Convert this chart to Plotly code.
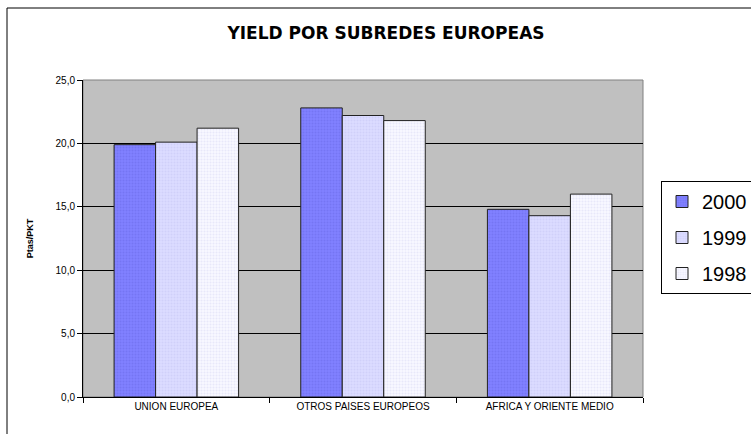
import plotly.graph_objects as go

categories = ["UNION EUROPEA", "OTROS PAISES EUROPEOS", "AFRICA Y ORIENTE MEDIO"]
years = ["2000", "1999", "1998"]
values_2000 = [19.9, 22.8, 14.8]
values_1999 = [20.1, 22.2, 14.3]
values_1998 = [21.2, 21.8, 16.0]
series = [values_2000, values_1999, values_1998]

bg_colors = ["#8080FF", "#DCDCFF", "#F8F8FF"]
fg_colors = ["#6A6AE8", "#C4C4F4", "#D8D8F4"]

W, H = 751, 434
ml, mr, mt, mb = 83, 108, 80, 37

fig = go.Figure()
for i, (name, vals) in enumerate(zip(years, series)):
    fig.add_trace(go.Bar(
        x=categories, y=vals, name=name, legendgroup=name,
        marker=dict(color=bg_colors[i],
                    pattern=dict(shape=".", fgcolor=fg_colors[i], bgcolor=bg_colors[i],
                                 size=3, solidity=0.35),
                    line=dict(color="#222222", width=1)),
    ))

pw = W - ml - mr
ph = H - mt - mb

fig.update_layout(
    width=W, height=H,
    margin=dict(l=ml, r=mr, t=mt, b=mb, pad=0, autoexpand=False),
    paper_bgcolor="white",
    plot_bgcolor="#C0C0C0",
    separators=",.",
    font=dict(family="Liberation Sans, Arial", size=10, color="black"),
    barmode="group", bargap=0.333, bargroupgap=0,
    title=dict(text="<b>YIELD POR SUBREDES EUROPEAS</b>",
               font=dict(family="DejaVu Sans", size=17, color="black"),
               x=(386) / W, xanchor="center", y=1 - 33 / H, yanchor="middle"),
    legend=dict(x=(661 - ml) / pw, xanchor="left", y=(H - mb - 181) / ph, yanchor="top",
                bordercolor="black", borderwidth=1, bgcolor="white",
                font=dict(family="Liberation Sans, Arial", size=20, color="black"),
                tracegroupgap=7, itemwidth=30, traceorder="grouped"),
    showlegend=True,
    xaxis=dict(showline=True, linecolor="black", linewidth=1,
               ticks="outside", tickson="boundaries", ticklen=5, tickcolor="black",
               showgrid=False, tickfont=dict(size=10)),
    yaxis=dict(range=[0, 25], dtick=5, tickformat=".1f",
               showline=True, linecolor="black", linewidth=1,
               ticks="outside", ticklen=5, tickcolor="black",
               showgrid=True, gridcolor="black", gridwidth=1, zeroline=False,
               tickfont=dict(size=10),
               title=dict(text="<b>Ptas/PKT</b>", font=dict(size=9), standoff=20)),
    shapes=[
        dict(type="rect", xref="paper", yref="paper", x0=0, x1=1, y0=0, y1=1,
             line=dict(color="#808080", width=1), layer="below"),
        dict(type="rect", xref="paper", yref="paper",
             x0=(7 - ml) / pw, x1=(W + 20 - ml) / pw,
             y0=-(40 + mb) / ph, y1=(H - mb - 8) / ph,
             line=dict(color="black", width=1), fillcolor="rgba(0,0,0,0)"),
    ],
)

fig.write_html("out.html")
